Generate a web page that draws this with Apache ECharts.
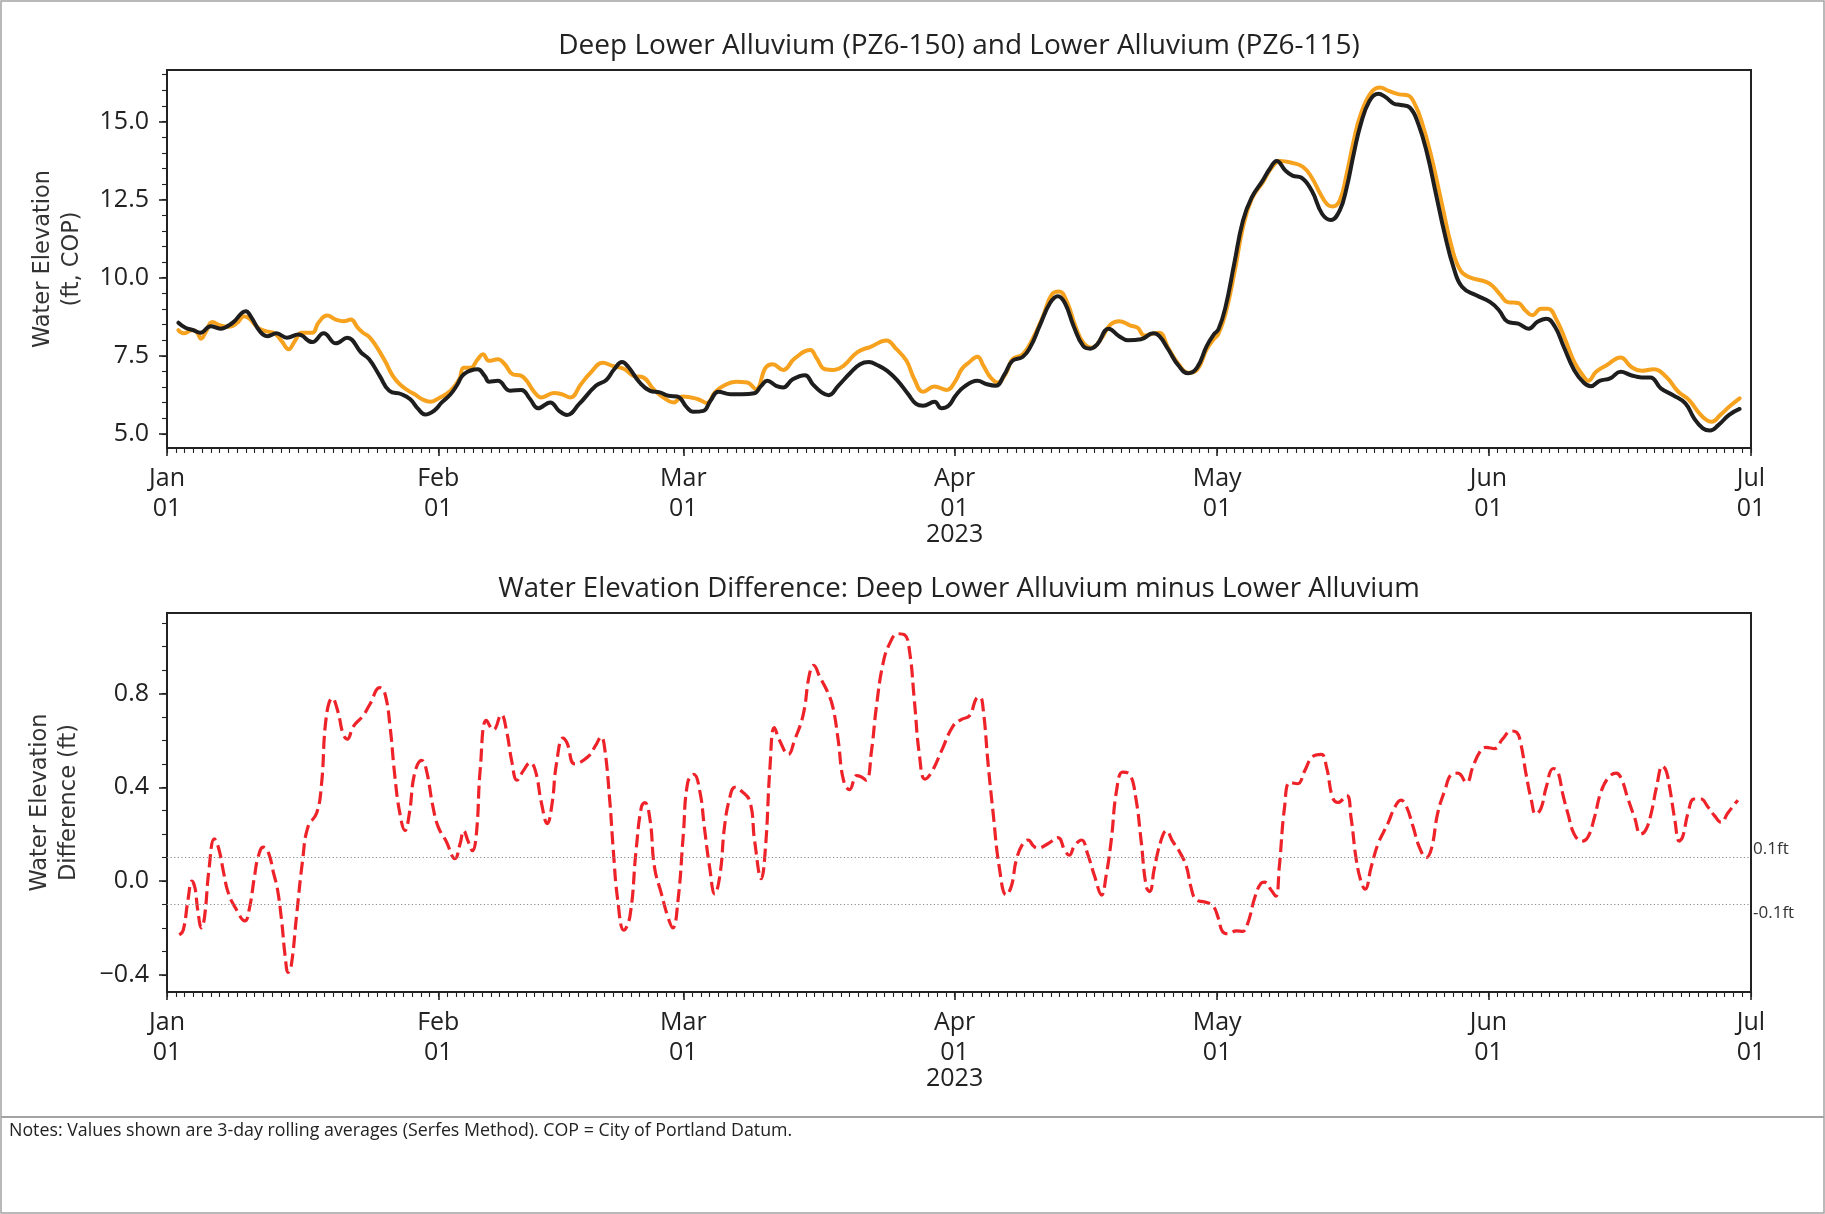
<!DOCTYPE html>
<html>
<head>
<meta charset="utf-8">
<title>PZ6-150 / PZ6-115 water elevations, 2023</title>
<script src="https://cdn.jsdelivr.net/npm/echarts@6/dist/echarts.min.js"></script>
<style>
  html, body { margin: 0; padding: 0; background: #ffffff; }
  #chart { width: 1825px; height: 1214px; }
</style>
</head>
<body>
<div id="chart"></div>
<script>
// ---- Data (day offsets from 2023-01-01 00:00, elevations in ft COP) ----

// Lower Alluvium (PZ6-115), 3-day rolling average
const lowerDays = [1.3,2.1,3.0,3.8,5.0,6.1,7.5,9.0,9.6,10.6,11.5,12.5,13.7,15.0,16.6,17.9,19.3,20.6,22.2,23.1,24.3,25.4,26.8,27.8,28.7,29.5,30.5,31.4,32.4,33.2,33.9,35.5,36.3,36.8,37.8,39.2,40.5,41.5,42.4,43.8,44.8,45.7,47.1,49.0,50.2,51.1,52.0,52.7,54.0,55.2,56.3,57.3,58.3,59.4,60.1,61.3,62.1,63.0,64.4,65.7,67.1,67.9,68.6,69.6,70.4,71.5,72.9,73.8,74.8,75.6,76.7,78.1,79.2,80.2,81.2,82.3,83.5,84.7,85.6,86.4,87.7,88.5,89.3,90.1,91.0,92.6,93.7,94.7,95.7,96.6,97.8,98.7,99.7,100.9,101.8,102.6,103.6,104.7,105.5,106.3,107.6,108.8,109.8,111.3,112.7,113.4,114.4,115.6,116.7,117.7,118.8,119.6,120.15,120.95,121.95,122.95,123.95,125.2,126.0,126.8,127.8,128.6,129.6,130.8,132.0,133.0,134.0,134.8,135.6,136.4,137.4,138.4,139.2,140.2,141.0,142.0,143.0,144.0,145.0,146.0,147.0,148.0,149.6,151.2,152.2,153.2,154.4,155.6,156.6,157.6,158.6,159.6,160.8,161.9,162.7,163.7,164.9,166.1,167.3,168.5,169.5,170.7,172.1,173.5,174.5,175.5,176.3,177.3,178.5,179.7];
const lowerFt = [8.56,8.40,8.32,8.24,8.45,8.37,8.56,8.93,8.75,8.29,8.13,8.22,8.08,8.18,7.94,8.22,7.90,8.08,7.60,7.39,6.86,6.38,6.27,6.11,5.80,5.62,5.74,6.01,6.27,6.59,6.91,7.07,6.86,6.67,6.70,6.38,6.41,6.11,5.82,6.01,5.74,5.61,5.96,6.54,6.73,7.07,7.30,7.15,6.65,6.38,6.33,6.22,6.20,5.85,5.71,5.74,6.06,6.35,6.27,6.27,6.30,6.54,6.70,6.54,6.49,6.75,6.88,6.59,6.33,6.24,6.54,6.96,7.23,7.30,7.20,7.02,6.70,6.27,5.96,5.90,6.03,5.82,5.90,6.22,6.49,6.70,6.59,6.54,6.91,7.34,7.47,7.81,8.45,9.19,9.41,9.19,8.45,7.81,7.73,7.87,8.37,8.13,8.00,8.03,8.22,8.13,7.71,7.18,6.94,7.12,7.81,8.18,8.35,9.06,10.45,11.83,12.57,13.11,13.48,13.74,13.43,13.27,13.21,12.79,12.04,11.85,12.15,12.89,13.96,14.91,15.66,15.89,15.79,15.57,15.53,15.45,14.91,13.96,12.68,11.40,10.34,9.70,9.44,9.22,8.96,8.59,8.53,8.37,8.59,8.69,8.43,7.79,7.04,6.64,6.53,6.70,6.78,6.99,6.88,6.81,6.81,6.46,6.24,5.98,5.50,5.18,5.11,5.29,5.61,5.80];

// Deep Lower Alluvium (PZ6-150), 3-day rolling average
const deepDays = [1.3,1.9,2.85,3.4,3.9,4.4,5.2,6.1,7.1,8.05,8.8,9.4,10.4,11.3,12.3,13.1,13.9,14.6,15.4,16.6,17.3,18.3,19.3,20.2,21.0,21.8,22.4,23.1,23.9,24.9,25.8,26.6,27.6,28.3,29.3,30.1,31.2,32.4,33.4,33.9,34.7,35.5,36.1,36.8,37.8,38.6,39.5,40.5,41.1,42.0,42.8,44.2,45.1,46.1,47.3,48.4,49.8,50.9,52.3,53.3,54.4,55.6,56.7,57.9,58.9,60.7,61.7,62.6,63.6,65.0,66.3,67.3,68.4,69.2,70.4,71.7,73.5,74.2,75.2,76.2,77.3,78.9,80.4,82.2,83.3,84.5,85.4,86.4,87.7,89.1,90.1,90.8,91.6,92.6,93.3,94.1,94.9,95.9,96.6,97.8,98.9,100.1,101.1,101.95,102.8,103.8,104.7,105.7,106.7,107.8,108.8,110.1,110.9,111.7,112.8,113.4,114.4,115.6,116.7,117.7,118.8,119.6,120.15,120.95,121.95,122.95,123.95,125.2,126.2,127.2,128.4,129.8,130.8,131.8,132.6,133.2,134.0,134.8,135.6,136.4,137.6,138.6,139.6,140.8,141.8,142.6,143.4,144.4,145.6,146.8,147.8,148.8,150.8,151.6,152.4,153.2,154.4,155.2,156.0,157.0,157.8,158.8,159.8,160.8,161.9,162.4,163.3,164.5,166.1,167.3,168.5,169.9,171.3,172.7,173.9,175.1,175.9,176.5,177.5,178.5,179.7];
const deepFt = [8.32,8.22,8.32,8.26,8.05,8.25,8.58,8.47,8.43,8.56,8.77,8.70,8.40,8.29,8.22,7.97,7.71,7.97,8.24,8.24,8.56,8.79,8.66,8.61,8.66,8.40,8.24,8.11,7.81,7.34,6.86,6.59,6.38,6.27,6.09,6.03,6.17,6.38,6.75,7.12,7.12,7.39,7.55,7.34,7.39,7.23,6.91,6.86,6.70,6.33,6.17,6.31,6.27,6.17,6.59,6.96,7.28,7.18,7.07,6.86,6.81,6.43,6.17,6.01,6.20,6.11,5.99,6.33,6.54,6.67,6.65,6.43,7.12,7.23,7.05,7.41,7.69,7.44,7.07,7.05,7.18,7.62,7.79,7.99,7.73,7.34,6.75,6.35,6.52,6.41,6.70,7.07,7.28,7.47,7.18,6.81,6.65,6.96,7.39,7.55,8.03,8.77,9.46,9.56,9.25,8.45,7.92,7.76,8.03,8.50,8.61,8.47,8.40,8.15,8.22,8.24,7.76,7.23,6.96,7.05,7.71,8.03,8.21,8.85,10.13,11.62,12.52,13.05,13.51,13.74,13.69,13.55,13.21,12.68,12.34,12.28,12.47,13.32,14.38,15.23,15.93,16.09,15.98,15.87,15.84,15.55,14.97,13.96,12.47,10.98,10.23,10.02,9.86,9.70,9.44,9.22,9.19,8.96,8.80,9.01,9.01,8.64,8.00,7.31,6.83,6.70,6.99,7.20,7.45,7.15,7.02,7.07,6.83,6.35,6.09,5.66,5.45,5.39,5.61,5.87,6.14];

// Deep Lower Alluvium minus Lower Alluvium (ft)
const diffDays = [1.4,1.85,2.4,2.85,3.2,3.5,3.95,4.3,4.8,5.4,5.9,6.5,7.0,7.9,8.9,9.4,10.0,10.4,11.0,11.6,12.2,12.6,13.1,13.5,13.85,14.2,14.8,15.5,16.1,17.1,17.65,18.2,18.9,19.55,20.1,20.6,21.3,22.4,23.2,24.3,24.9,25.5,26.0,26.6,27.2,27.7,28.3,29.1,29.6,30.4,31.0,31.9,32.9,33.5,33.9,34.4,34.9,35.35,35.8,36.5,37.3,38.2,38.8,39.4,40.0,40.7,41.5,42.1,42.8,43.45,44.0,44.5,45.25,45.7,46.6,48.1,49.0,49.6,50.0,50.6,51.0,51.5,52.2,52.9,53.6,54.2,54.6,55.2,55.7,56.5,57.25,57.8,58.4,59.0,59.5,60.2,60.9,61.4,62.0,62.6,63.2,63.7,64.3,64.9,65.6,66.6,67.15,67.9,68.4,68.9,69.4,70.0,71.0,71.7,72.7,73.4,73.9,74.6,75.5,76.1,76.7,77.3,78.0,78.8,79.3,79.9,80.5,81.05,81.8,82.6,83.5,84.3,84.85,85.4,86.0,86.6,87.3,88.5,89.8,90.8,91.7,92.5,92.9,93.3,93.8,94.4,95.1,95.9,96.5,97.05,97.8,98.4,99.0,99.5,100.7,101.8,102.6,103.1,103.7,104.5,105.2,106.0,106.8,107.3,107.9,108.5,109.2,110.0,110.7,111.3,111.9,112.3,112.8,113.6,114.2,114.9,115.7,116.5,117.0,117.6,118.6,119.5,120.1,120.6,121.2,122.2,122.9,123.5,124.3,125.0,125.4,126.2,126.7,127.1,127.7,128.3,129.2,130.0,130.9,131.9,132.5,133.2,133.8,134.8,135.3,135.9,136.5,136.9,137.6,138.4,139.5,140.3,141.0,141.6,142.4,143.1,143.9,144.5,145.2,146.0,146.8,147.5,148.5,149.2,150.0,150.7,151.7,152.6,153.6,154.2,154.7,155.3,155.9,156.4,157.0,157.6,158.4,158.9,159.5,160.1,160.8,161.7,162.4,163.1,163.9,164.8,165.6,166.2,166.9,167.7,168.4,169.0,169.6,170.2,170.9,171.3,171.7,172.3,172.8,173.2,173.8,174.5,175.3,176.0,176.8,177.6,178.35,179.5];
const diffFt = [-0.23,-0.21,-0.08,0.0,-0.03,-0.12,-0.20,-0.15,0.05,0.18,0.14,0.03,-0.05,-0.12,-0.17,-0.12,0.02,0.10,0.145,0.12,0.03,-0.03,-0.17,-0.32,-0.39,-0.36,-0.15,0.09,0.23,0.29,0.41,0.70,0.78,0.72,0.63,0.605,0.66,0.705,0.755,0.825,0.80,0.655,0.46,0.29,0.215,0.29,0.46,0.515,0.48,0.315,0.23,0.17,0.095,0.16,0.215,0.17,0.13,0.20,0.48,0.685,0.645,0.71,0.64,0.51,0.43,0.47,0.505,0.47,0.33,0.245,0.33,0.50,0.61,0.59,0.50,0.53,0.58,0.615,0.57,0.34,0.13,-0.08,-0.21,-0.15,0.13,0.315,0.335,0.26,0.06,-0.055,-0.155,-0.20,-0.08,0.20,0.42,0.455,0.38,0.23,0.06,-0.055,0.03,0.23,0.355,0.40,0.385,0.34,0.17,0.01,0.15,0.485,0.655,0.60,0.54,0.60,0.71,0.88,0.92,0.87,0.805,0.74,0.60,0.43,0.39,0.45,0.445,0.43,0.555,0.74,0.925,1.015,1.055,1.05,0.98,0.77,0.53,0.435,0.46,0.555,0.66,0.69,0.705,0.78,0.785,0.72,0.51,0.29,0.06,-0.06,-0.02,0.09,0.16,0.175,0.15,0.14,0.16,0.185,0.13,0.11,0.15,0.175,0.115,0.02,-0.06,0.02,0.175,0.385,0.465,0.455,0.355,0.175,-0.025,-0.045,0.05,0.175,0.215,0.17,0.125,0.06,-0.025,-0.08,-0.09,-0.105,-0.155,-0.215,-0.225,-0.213,-0.215,-0.18,-0.07,-0.01,-0.005,-0.04,-0.065,0.06,0.315,0.42,0.415,0.47,0.53,0.54,0.485,0.355,0.335,0.365,0.27,0.09,-0.01,-0.035,0.06,0.16,0.245,0.315,0.345,0.32,0.23,0.145,0.10,0.14,0.29,0.385,0.455,0.46,0.42,0.485,0.55,0.57,0.565,0.605,0.64,0.635,0.585,0.455,0.345,0.285,0.31,0.40,0.48,0.47,0.37,0.285,0.20,0.17,0.19,0.27,0.385,0.445,0.46,0.435,0.355,0.27,0.20,0.22,0.29,0.40,0.49,0.47,0.40,0.26,0.17,0.19,0.29,0.35,0.35,0.32,0.28,0.25,0.29,0.345];

// Axis ticks and labels
const monthTickDays = [0, 31, 59, 90, 120, 151, 181];
const monthTickLabels = ['Jan\n01', 'Feb\n01', 'Mar\n01', 'Apr\n01\n2023', 'May\n01', 'Jun\n01', 'Jul\n01'];
const elevTicks = [5, 7.5, 10, 12.5, 15];
const elevTickLabels = ['5.0', '7.5', '10.0', '12.5', '15.0'];
const diffTicks = [-0.4, 0, 0.4, 0.8];
const diffTickLabels = ['\u22120.4', '0.0', '0.4', '0.8'];

// Reference band on the difference panel
const refLevels = [0.1, -0.1];
const refLabels = ['0.1ft', '-0.1ft'];

// Texts
const topTitle = 'Deep Lower Alluvium (PZ6-150) and Lower Alluvium (PZ6-115)';
const bottomTitle = 'Water Elevation Difference: Deep Lower Alluvium minus Lower Alluvium';
const topYName = 'Water Elevation\n(ft, COP)';
const bottomYName = 'Water Elevation\nDifference (ft)';
const noteText = 'Notes: Values shown are 3-day rolling averages (Serfes Method). COP = City of Portland Datum.';
const deepName = 'Deep Lower Alluvium (PZ6-150)';
const lowerName = 'Lower Alluvium (PZ6-115)';
const diffName = 'Deep minus Lower';

// ---- Styling / layout ----
const INK = '#222222';
const FONT = 'Open Sans';
const NAME_FONT = 'DejaVu Sans';
const ORANGE = '#f6a21e';
const BLACK = '#1e1e1e';
const RED = '#ee2229';

const X_MIN = 0, X_MAX = 181;
const TOP_Y = [4.55, 16.65];
const BOT_Y = [-0.4735, 1.1435];

const PLOT_LEFT = 167, PLOT_WIDTH = 1584;
const grids = [
  { left: PLOT_LEFT, top: 70, width: PLOT_WIDTH, height: 378 },
  { left: PLOT_LEFT, top: 613, width: PLOT_WIDTH, height: 379 }
];

function pairs(xs, ys) { return xs.map((x, i) => [x, ys[i]]); }
function steps(from, to, step) {
  const out = [];
  const n = Math.round((to - from) / step);
  for (let i = 0; i <= n; i++) out.push(+(from + i * step).toFixed(4));
  return out;
}

const dayMinor = steps(0, 181, 1);
const elevMinor = steps(5, 16.5, 0.5);
const diffMinor = steps(-0.4, 1.1, 0.1);

function monthLabel(v) {
  const i = monthTickDays.indexOf(v);
  if (i < 0) return '';
  return monthTickLabels[i].split('\n')
    .map((s, k) => (k === 2 ? '{y|' + s + '}' : '{m|' + s + '}'))
    .join('\n');
}

function mainX(gridIndex) {
  return {
    type: 'value', gridIndex, min: X_MIN, max: X_MAX, position: 'bottom',
    axisLine: { show: false, onZero: false },
    splitLine: { show: false },
    axisTick: { show: true, inside: false, length: 8, customValues: monthTickDays,
                lineStyle: { color: INK, width: 1.6 } },
    axisLabel: {
      show: true, customValues: monthTickDays, margin: 16,
      formatter: monthLabel,
      rich: {
        m: { fontFamily: FONT, fontSize: 25, lineHeight: 30, color: INK },
        y: { fontFamily: FONT, fontSize: 25, lineHeight: 22, color: INK }
      }
    }
  };
}
function minorX(gridIndex) {
  return {
    type: 'value', gridIndex, min: X_MIN, max: X_MAX, position: 'bottom',
    axisLine: { show: false, onZero: false }, splitLine: { show: false },
    axisLabel: { show: false },
    axisTick: { show: true, length: 5, customValues: dayMinor, lineStyle: { color: INK, width: 1.1 } }
  };
}
function mainY(gridIndex, range, ticks, labels, name, gap) {
  return {
    type: 'value', gridIndex, min: range[0], max: range[1], position: 'left',
    axisLine: { show: false, onZero: false }, splitLine: { show: false },
    axisTick: { show: true, length: 8, customValues: ticks, lineStyle: { color: INK, width: 1.6 } },
    axisLabel: {
      show: true, customValues: ticks, margin: 18,
      fontFamily: FONT, fontSize: 25, color: INK,
      formatter: v => { const i = ticks.indexOf(v); return i < 0 ? '' : labels[i]; }
    },
    name, nameLocation: 'middle', nameRotate: 90, nameGap: gap,
    nameTextStyle: { fontFamily: NAME_FONT, fontSize: 22.5, lineHeight: 29, color: '#333333', align: 'center' }
  };
}
function minorY(gridIndex, range, ticks) {
  return {
    type: 'value', gridIndex, min: range[0], max: range[1], position: 'left',
    axisLine: { show: false, onZero: false }, splitLine: { show: false },
    axisLabel: { show: false },
    axisTick: { show: true, length: 5, customValues: ticks, lineStyle: { color: INK, width: 1.1 } }
  };
}

const option = {
  animation: false,
  backgroundColor: '#ffffff',
  textStyle: { fontFamily: FONT, color: INK },
  title: [
    { text: topTitle, left: 959, top: 30, textAlign: 'center', padding: 0,
      textStyle: { fontFamily: FONT, fontSize: 28, fontWeight: 'normal', color: INK, lineHeight: 32 } },
    { text: bottomTitle, left: 959, top: 573, textAlign: 'center', padding: 0,
      textStyle: { fontFamily: FONT, fontSize: 27.6, fontWeight: 'normal', color: INK, lineHeight: 32 } }
  ],
  grid: grids.map(g => Object.assign({
    show: true, borderColor: INK, borderWidth: 2, backgroundColor: 'transparent',
    containLabel: false, outerBoundsMode: 'none'
  }, g)),
  xAxis: [mainX(0), minorX(0), mainX(1), minorX(1)],
  yAxis: [
    mainY(0, TOP_Y, elevTicks, elevTickLabels, topYName, 80),
    minorY(0, TOP_Y, elevMinor),
    mainY(1, BOT_Y, diffTicks, diffTickLabels, bottomYName, 83),
    minorY(1, BOT_Y, diffMinor)
  ],
  series: [
    {
      name: deepName, type: 'line', xAxisIndex: 0, yAxisIndex: 0, z: 2,
      data: pairs(deepDays, deepFt), showSymbol: false, symbol: 'none',
      smooth: 0.45, silent: true,
      lineStyle: { color: ORANGE, width: 4, cap: 'round', join: 'round' }
    },
    {
      name: lowerName, type: 'line', xAxisIndex: 0, yAxisIndex: 0, z: 3,
      data: pairs(lowerDays, lowerFt), showSymbol: false, symbol: 'none',
      smooth: 0.45, silent: true,
      lineStyle: { color: BLACK, width: 4, cap: 'round', join: 'round' }
    },
    {
      name: 'reference', type: 'line', xAxisIndex: 2, yAxisIndex: 2, z: 1,
      data: [], silent: true,
      markLine: {
        silent: true, symbol: 'none', animation: false,
        lineStyle: { type: [1.2, 2.4], color: '#8a8a8a', width: 1.2 },
        label: { show: true, position: 'end', distance: 2, fontFamily: FONT, fontSize: 17, color: '#333333', align: 'left' },
        data: [
          { yAxis: refLevels[0], label: { formatter: refLabels[0], verticalAlign: 'bottom' } },
          { yAxis: refLevels[1], label: { formatter: refLabels[1], verticalAlign: 'top' } }
        ]
      }
    },
    {
      name: diffName, type: 'line', xAxisIndex: 2, yAxisIndex: 2, z: 4,
      data: pairs(diffDays, diffFt), showSymbol: false, symbol: 'none',
      smooth: 0.45, silent: true,
      lineStyle: { color: RED, width: 3.2, type: [13, 5.5], cap: 'butt', join: 'round' }
    }
  ],
  graphic: [
    { type: 'rect', silent: true, z: 100,
      shape: { x: 1, y: 1, width: 1823, height: 1212 },
      style: { fill: 'none', stroke: '#a3a3a3', lineWidth: 1.5 } },
    { type: 'line', silent: true, z: 100,
      shape: { x1: 1, y1: 1117, x2: 1824, y2: 1117 },
      style: { stroke: '#a3a3a3', lineWidth: 2 } },
    { type: 'text', silent: true, z: 100, left: 9, top: 1122,
      style: { text: noteText, fontFamily: FONT, fontSize: 17.8, fill: INK } }
  ]
};

const chart = echarts.init(document.getElementById('chart'), null, { renderer: 'canvas' });
chart.setOption(option);
</script>
</body>
</html>
